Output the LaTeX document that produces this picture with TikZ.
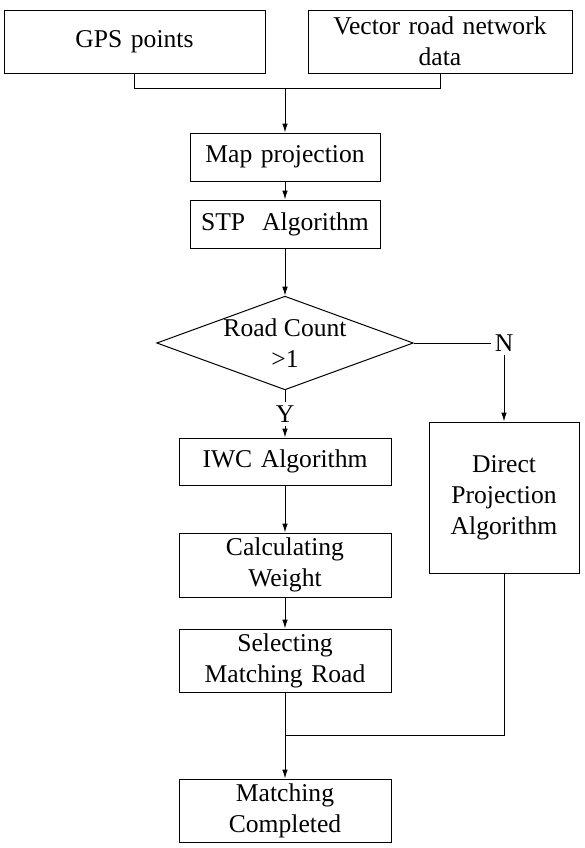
\documentclass[tikz,border=0pt]{standalone}
\usepackage{fontspec}
\setmainfont{Liberation Serif}
\usetikzlibrary{shapes,arrows.meta,calc}
\tikzstyle{line} = [draw, -{Latex[length=4.5pt,width=2.8pt]}]
\tikzstyle{block} = [rectangle, draw, inner sep=0pt, text width=106pt, minimum height=32pt, text centered, node distance=50pt]
\tikzstyle{decide} = [diamond, draw, aspect=2.74, inner sep=0pt, minimum width=127.5pt, minimum height=46.5pt, text centered, align=center, node distance=59.5pt]
\tikzstyle{branch} = [inner sep=1.5pt, fill=white]

\begin{document}
\begin{tikzpicture}[every node/.style={font=\fontsize{12.8}{15.5}\selectfont}, line width=0.5pt]
	
	\useasboundingbox (0,0) rectangle (292.5pt,-424pt);
	
	\node [block, text width=130.5pt, minimum height=31.5pt] (gps) at (67.25pt,-20.75pt) {GPS points};
	
	\node [block, right of=gps, node distance=152.75pt, text width=132pt, minimum height=31.5pt] (vector) {Vector road network\\ data};
	
	\node [block, below of=gps, xshift=75.25pt, node distance=57.75pt, text width=95pt, minimum height=24pt] (map) {Map projection};
	
	\node [block, below of=map, node distance=33.5pt, text width=95pt, minimum height=24pt] (stp) {STP\ \ Algorithm};
	
	\node [decide, below of=stp] (count) {Road Count\\ >1};
	
	\node [block, below of=count, node distance=59.25pt, minimum height=23.5pt] (iwc) {IWC Algorithm};
	
	\node [block, below of=iwc, node distance=51.75pt] (weight) {Calculating\\ Weight};
	
	\node [block, below of=weight, node distance=47.75pt, minimum height=31.5pt] (select) {Selecting\\ Matching Road};
	
	\node [block, below of=select, node distance=75pt, minimum height=31.5pt] (done) {Matching\\ Completed};
	
	\node [block, right of=iwc, node distance=109.5pt, yshift=-18pt, text width=75pt, minimum height=75.5pt] (direct) {Direct\\ Projection\\ Algorithm};
	
	\node [branch] (yes) at ($(count.south)!0.5!(iwc.north)$) {Y};
	\node [branch] (no) at (count.east -| direct.north) {N};
	
	\coordinate (join) at ($(map.north)+(0,22pt)$);
	\coordinate (merge) at ($(select.south)!0.5!(done.north)$);
	
	\draw (gps.south) |- (join) -| (vector.south);
	\path [line] (join) to (map.north);
	\path [line] (map.south) to (stp.north);
	\path [line] (stp.south) to (count.north);
	
	\draw (count.south) to (yes.north);
	\path [line] (yes.south) to (iwc.north);
	\draw (count.east) to (no.west);
	\path [line] (no.south) to (direct.north);
	
	\path [line] (iwc.south) to (weight.north);
	\path [line] (weight.south) to (select.north);
	\draw (direct.south) |- (merge);
	\path [line] (select.south) to (done.north);
	\end{tikzpicture}
\end{document}
